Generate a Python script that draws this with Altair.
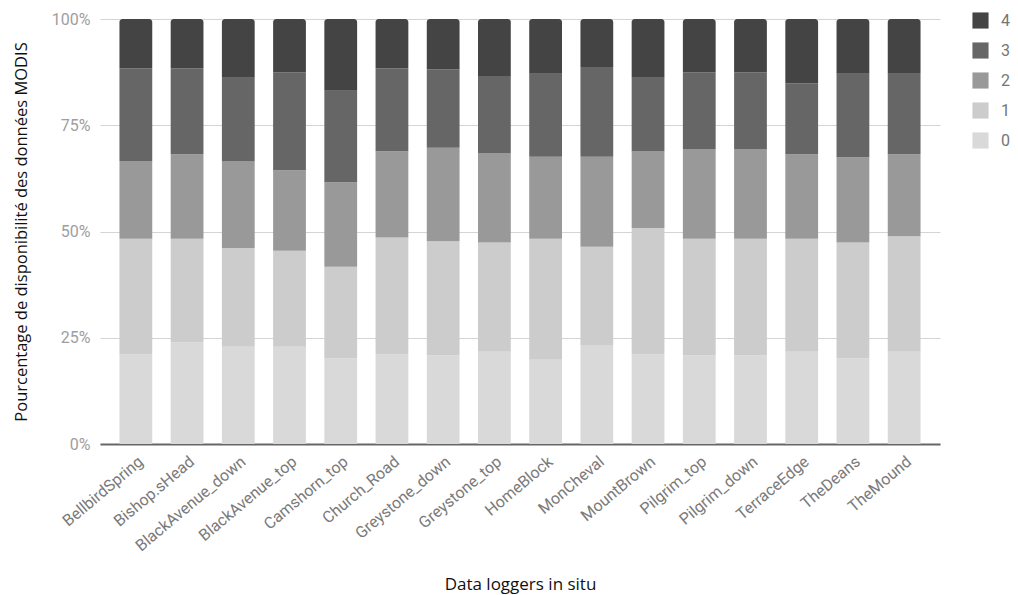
import altair as alt
import pandas as pd

loggers = ["BellbirdSpring", "Bishop.sHead", "BlackAvenue_down", "BlackAvenue_top",
           "Camshorn_top", "Church_Road", "Greystone_down", "Greystone_top",
           "HomeBlock", "MonCheval", "MountBrown", "Pilgrim_top", "Pilgrim_down",
           "TerraceEdge", "TheDeans", "TheMound"]

cat0 = [21.1, 23.9, 22.9, 22.9, 20.2, 21.1, 20.8, 21.7, 19.8, 23.3, 21.1, 20.8, 20.8, 21.7, 20.2, 21.7]
cat1 = [27.2, 24.4, 23.2, 22.6, 21.5, 27.5, 26.9, 25.7, 28.5, 23.1, 29.7, 27.5, 27.5, 26.6, 27.2, 27.2]
cat2 = [18.3, 19.9, 20.5, 18.9, 19.9, 20.3, 22.0, 21.1, 19.3, 21.2, 18.0, 21.1, 21.1, 19.9, 20.1, 19.3]
cat3 = [21.8, 20.2, 19.6, 23.1, 21.5, 19.5, 18.5, 18.1, 19.5, 21.1, 17.4, 18.1, 18.1, 16.7, 19.6, 18.9]
cat4 = [11.6, 11.6, 13.8, 12.5, 16.9, 11.6, 11.8, 13.4, 12.9, 11.3, 13.8, 12.5, 12.5, 15.1, 12.9, 12.9]

categories = ["0", "1", "2", "3", "4"]
colors = ["#d9d9d9", "#cccccc", "#999999", "#666666", "#444444"]

rows = []
for i, lg in enumerate(loggers):
    for k, vals in enumerate([cat0, cat1, cat2, cat3, cat4]):
        rows.append({"logger": lg, "cat": categories[k], "order": k, "value": vals[i]})
df = pd.DataFrame(rows)

base = alt.Chart(df).transform_stack(
    stack="value", groupby=["logger"], as_=["v0", "v1"],
    sort=[alt.SortField("order", order="ascending")], offset="normalize"
)

x_enc = alt.X("logger:N", sort=loggers,
              scale=alt.Scale(paddingInner=0.36, paddingOuter=0.38),
              axis=alt.Axis(title="Data loggers in situ", labelAngle=-40,
                            labelFont="Roboto", labelFontSize=16, labelColor="#7a7a7a",
                            labelPadding=9,
                            titleFont="Open Sans", titleFontSize=17, titleFontWeight="normal",
                            titleColor="#111111", titlePadding=23,
                            domainColor="#666666", domainWidth=2, ticks=False))
y_enc = alt.Y("v0:Q", scale=alt.Scale(domain=[0, 1], nice=False),
              axis=alt.Axis(title="Pourcentage de disponibilité des données MODIS",
                            values=[0, 0.25, 0.5, 0.75, 1], format=".0%",
                            labelFont="Roboto", labelFontSize=16, labelColor="#9e9e9e",
                            labelPadding=10,
                            titleFont="Open Sans", titleFontSize=16.5, titleFontWeight="normal",
                            titleColor="#111111", titlePadding=22,
                            domain=False, ticks=False, gridColor="#d4d4d4"))
color_enc = alt.Color("cat:N",
                      scale=alt.Scale(domain=categories[::-1], range=colors[::-1]),
                      legend=alt.Legend(title=None, orient="none", legendX=872, legendY=-7,
                                        symbolType="square", symbolSize=260,
                                        symbolStrokeWidth=0, symbolOpacity=1,
                                        labelFont="Roboto", labelFontSize=16,
                                        labelColor="#757575", rowPadding=13,
                                        labelOffset=12))

lower = base.transform_filter(alt.datum.order < 4).mark_bar().encode(
    x=x_enc, y=y_enc, y2="v1:Q", color=color_enc)
upper = base.transform_filter(alt.datum.order == 4).mark_bar(
    cornerRadiusTopLeft=3, cornerRadiusTopRight=3).encode(
    x=x_enc, y=y_enc, y2="v1:Q", color=color_enc)

chart = alt.layer(lower, upper).properties(
    width=840, height=425,
    autosize=alt.AutoSizeParams(type="none"),
    padding={"left": 92, "top": 11, "right": 70, "bottom": 150}
).configure_view(stroke=None)

chart.save("out.html", embed_options={"renderer": "svg", "actions": False})
